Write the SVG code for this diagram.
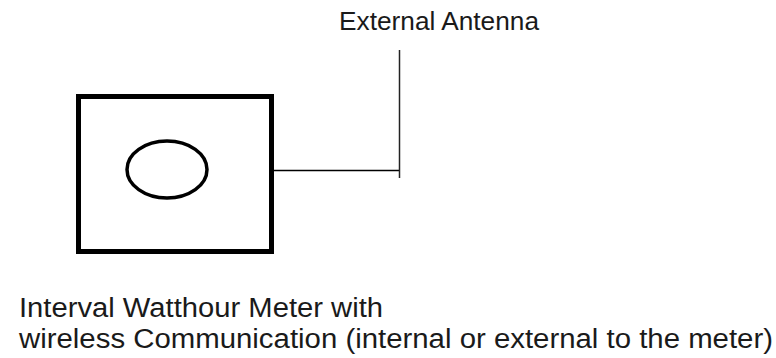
<svg xmlns="http://www.w3.org/2000/svg" width="776" height="358" viewBox="0 0 776 358">
<style>
.lbl{font-family:"Liberation Sans",Arial,sans-serif;fill:#1a1a1a;font-size:27px}
</style>
<rect width="776" height="358" fill="#fff"/>
<g id="meter">
<rect x="78.5" y="96.5" width="193" height="155" fill="none" stroke="#000" stroke-width="5"/>
<ellipse cx="167" cy="169.5" rx="40" ry="28.5" fill="none" stroke="#000" stroke-width="3.5"/>
</g>
<g id="antenna">
<text class="lbl" x="339" y="30" style="font-size:26px" textLength="200" lengthAdjust="spacingAndGlyphs">External Antenna</text>
</g>
<g id="connectors">
<polyline points="273,170.5 399.5,170.5" fill="none" stroke="#000" stroke-width="1.5"/>
<line x1="399.5" y1="50" x2="399.5" y2="178" stroke="#222" stroke-width="1.5"/>
</g>
<g id="caption">
<text class="lbl" x="19" y="317" textLength="364" lengthAdjust="spacingAndGlyphs">Interval Watthour Meter with</text>
<text class="lbl" x="19" y="348" textLength="754" lengthAdjust="spacingAndGlyphs">wireless Communication (internal or external to the meter)</text>
</g>
</svg>
